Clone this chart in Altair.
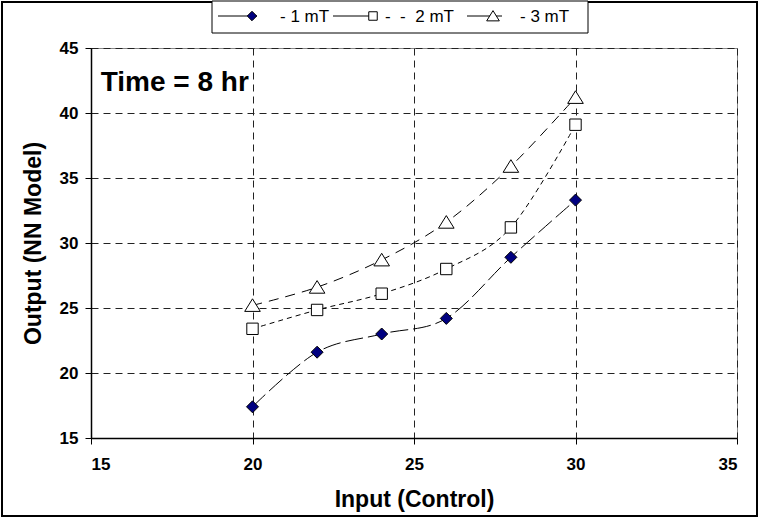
import altair as alt
import pandas as pd

x_vals = [20, 22, 24, 26, 28, 30]
series_names = ["1 mT", "2 mT", "3 mT"]
legend_labels = ["- 1 mT", "- \u00a0- \u00a02 mT", "- 3 mT"]
y_1mT = [17.4, 21.6, 23.0, 24.2, 28.9, 33.3]
y_2mT = [23.4, 24.85, 26.1, 28.0, 31.2, 39.1]
y_3mT = [25.2, 26.6, 28.7, 31.6, 35.9, 41.2]

x_ticks = [15, 20, 25, 30, 35]
y_ticks = [15, 20, 25, 30, 35, 40, 45]

annot_text = ["Time = 8 hr"]
annot_x = [15.3]
annot_y = [42.3]

rows = []
for name, ys in zip(series_names, [y_1mT, y_2mT, y_3mT]):
    for xv, yv in zip(x_vals, ys):
        rows.append({"series": name, "x": xv, "y": yv})
df = pd.DataFrame(rows)

FONT = "Liberation Sans"
W, H = 646, 390

xenc = alt.X("x:Q", scale=alt.Scale(domain=[15, 35], nice=False),
             axis=alt.Axis(values=x_ticks, title="Input (Control)", format="d"))
yenc = alt.Y("y:Q", scale=alt.Scale(domain=[15, 45], nice=False),
             axis=alt.Axis(values=y_ticks, title="Output (NN Model)", format="d"))

dash_scale = alt.Scale(domain=series_names, range=[[18, 5], [5, 4], [10, 7]])

lines = alt.Chart(df).mark_line(color="black", strokeWidth=1, interpolate="cardinal").encode(
    x=xenc, y=yenc,
    strokeDash=alt.StrokeDash("series:N", scale=dash_scale, legend=None),
    detail="series:N",
)

# marker shapes (unit = sqrt(size)/2 px)
marker_paths = [
    "M0,-1L1,0L0,1L-1,0Z",
    "M-0.95,-0.95L0.95,-0.95L0.95,0.95L-0.95,0.95Z",
    "M0,-1.1L1.3,1.0L-1.3,1.0Z",
]
fills = ["#000080", "#ffffff", "#ffffff"]

points = alt.Chart(df).mark_point(filled=True, stroke="black", strokeWidth=1, opacity=1, size=144).encode(
    x="x:Q", y="y:Q",
    shape=alt.Shape("series:N", scale=alt.Scale(domain=series_names, range=marker_paths), legend=None),
    fill=alt.Fill("series:N", scale=alt.Scale(domain=series_names, range=fills), legend=None),
)

annot_df = pd.DataFrame({"t": annot_text, "x": annot_x, "y": annot_y})
annot = alt.Chart(annot_df).mark_text(
    align="left", baseline="middle", font=FONT, fontSize=28, fontWeight="bold", color="black"
).encode(x="x:Q", y="y:Q", text="t:N")

one = pd.DataFrame({"a": [0]})

frame = alt.Chart(one).mark_rect(
    fill=None, stroke="black", strokeWidth=2, clip=False
).encode(x=alt.value(-89), x2=alt.value(W + 20), y=alt.value(-46), y2=alt.value(H + 78))

# ---- hand-built legend box at the top (layout in pixels relative to the plot origin)
LEG_LEFT, LEG_RIGHT, LEG_TOP, LEG_BOTTOM, LEG_MID = 121, 497, -47, -15, -32
leg_line_start = [127, 242, 376]   # left end of each entry's line
leg_marker = [161, 282, 402]       # marker centre of each entry
leg_line_end = [166, 282, 411]     # right end of each entry's line
leg_text = [189, 294, 429]         # label start
leg_size = [90, 80, 95]

legend_layers = [
    alt.Chart(one).mark_rect(fill="white", stroke="black", strokeWidth=1, clip=False).encode(
        x=alt.value(LEG_LEFT), x2=alt.value(LEG_RIGHT), y=alt.value(LEG_TOP), y2=alt.value(LEG_BOTTOM)
    )
]
for i in range(len(series_names)):
    legend_layers.append(
        alt.Chart(one).mark_rule(color="black", strokeWidth=1, clip=False).encode(
            x=alt.value(leg_line_start[i]), x2=alt.value(leg_line_end[i]), y=alt.value(LEG_MID)
        )
    )
    legend_layers.append(
        alt.Chart(one).mark_point(
            filled=True, fill=fills[i], stroke="black", strokeWidth=1, opacity=1,
            shape=marker_paths[i], size=leg_size[i], clip=False
        ).encode(x=alt.value(leg_marker[i]), y=alt.value(LEG_MID))
    )
    legend_layers.append(
        alt.Chart(one).mark_text(
            align="left", baseline="middle", font=FONT, fontSize=17, color="black", clip=False,
            text=legend_labels[i]
        ).encode(x=alt.value(leg_text[i]), y=alt.value(LEG_MID + 1))
    )

chart = alt.layer(frame, lines, points, annot, *legend_layers).properties(
    width=W, height=H,
    padding={"left": 91, "top": 48, "right": 21, "bottom": 80},
    autosize=alt.AutoSizeParams(type="none"),
    background="white",
).configure_view(
    stroke="#888888", strokeWidth=1
).configure_axis(
    grid=True, gridColor="#222222", gridDash=[7, 5], gridWidth=1, gridOpacity=1,
    domainColor="black", domainWidth=1.5, tickColor="black", tickSize=6,
    labelFont=FONT, labelFontSize=17, labelFontWeight="bold", labelColor="black",
    titleFont=FONT, titleFontSize=23, titleFontWeight="bold", titleColor="black",
).configure_axisX(
    labelPadding=12, titlePadding=16
).configure_axisY(
    labelPadding=7, titlePadding=14
)

chart.save("out.html", embed_options={"renderer": "svg", "actions": False})
